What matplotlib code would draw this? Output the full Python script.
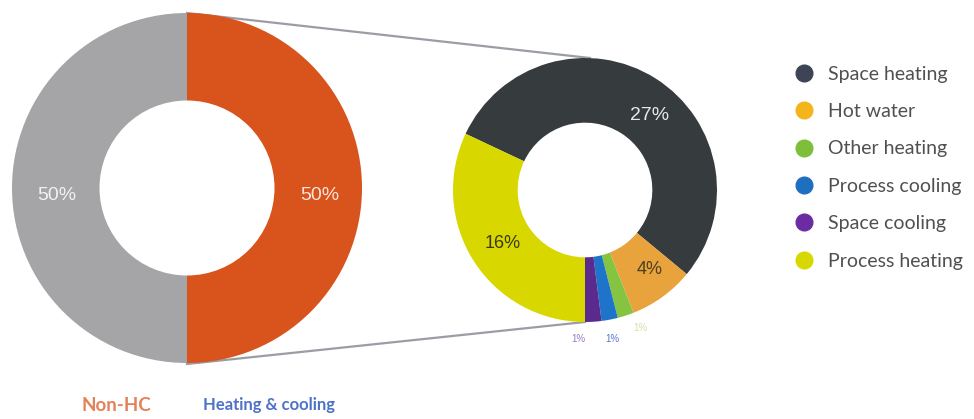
import matplotlib.pyplot as plt
from matplotlib.lines import Line2D

# overall split of energy use
split_labels = ['Non-HC', 'Heating & cooling']
split_values = [50, 50]
split_colors = ['#a5a5a7', '#d9531c']

# breakdown of heating & cooling (shares of total)
uses = ['Space heating', 'Hot water', 'Other heating', 'Process cooling',
        'Space cooling', 'Process heating']
use_values = [27, 4, 1, 1, 1, 16]
use_colors = ['#363b3e', '#e9a33c', '#85c441', '#1e74c8', '#5a2a8e', '#d8d800']
legend_colors = ['#3d4456', '#f4b41c', '#7dbf38', '#1f6fc0', '#6b2ca2', '#d6d800']

W, H = 974, 419
fig = plt.figure(figsize=(W / 100, H / 100), dpi=100)
ax = fig.add_axes([0, 0, 1, 1])

def px(x, y):
    # image-style coordinates (y down) to axes data
    return x, H - y

# left donut
lc, lr = px(187, 188), 175
ax.pie(split_values, colors=split_colors, startangle=90, counterclock=True,
       center=lc, radius=lr, wedgeprops=dict(width=lr * 0.5, linewidth=0))
for (x, y), v in zip([(57, 196), (320, 196)], split_values):
    ax.text(*px(x, y), f'{v}%', color='white', alpha=0.85, fontsize=14,
            ha='center', va='center', family='Liberation Sans')

# right donut, slices run clockwise and the last one ends straight down
rc, rr = px(585, 190), 132
total = sum(use_values)
start = -90 + 360 * sum(use_values[:-1]) / total
ax.pie(use_values, colors=use_colors, startangle=start, counterclock=False,
       center=rc, radius=rr, wedgeprops=dict(width=rr * 0.49, linewidth=0))

# pie() resets the limits, so fix the pixel frame afterwards
ax.set_xlim(0, W)
ax.set_ylim(0, H)
ax.set_aspect('equal')
ax.axis('off')

label_pos = [(650, 116), (650, 270), (640, 328), (612, 339), (578, 339), (503, 243)]
label_col = ['#e8e8e8', '#4a4020', '#d8e0a0', '#5a7ad0', '#9a7ac8', '#3a3a10']
label_size = [14, 13, 7, 7, 7, 13]
for (x, y), v, c, s in zip(label_pos, use_values, label_col, label_size):
    ax.text(*px(x, y), f'{v}%', color=c, fontsize=s, ha='center', va='center',
            family='Liberation Sans')

# connector lines from the left donut to the breakdown
ax.plot(*zip(px(187, 13), px(590, 58)), color='#9a9ea4', lw=1.6, zorder=0)
ax.plot(*zip(px(187, 364), px(585, 322)), color='#9a9ea4', lw=1.6, zorder=0)

# category captions under the left donut
ax.text(*px(116, 405), split_labels[0], color='#e3825a', fontsize=13.5,
        fontweight='bold', ha='center', va='center', family='Lato')
ax.text(*px(269, 405), split_labels[1], color='#4f72c8', fontsize=12,
        fontweight='bold', ha='center', va='center', family='Lato')

handles = [Line2D([], [], marker='o', ls='none', markersize=12,
                  markerfacecolor=c, markeredgecolor=c) for c in legend_colors]
leg = ax.legend(handles, uses, loc='upper left', bbox_to_anchor=(781 / W, 1 - 52 / H),
                frameon=False, handletextpad=0.7, labelspacing=1.05,
                prop={'family': 'Lato', 'size': 14}, handlelength=1.0,
                borderaxespad=0.3)
for t in leg.get_texts():
    t.set_color('#505050')

fig.savefig('out.png', dpi=100)
